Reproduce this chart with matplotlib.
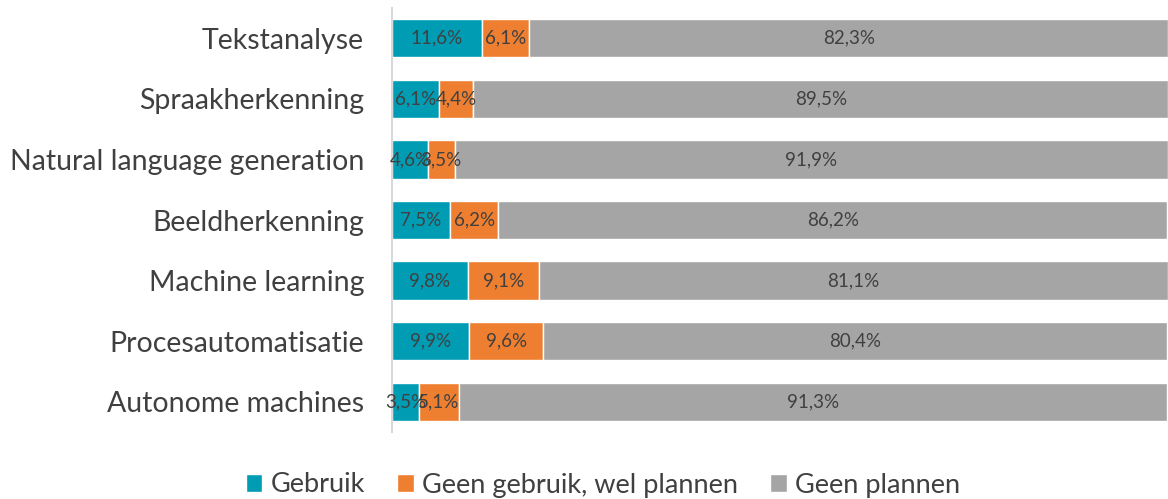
import numpy as np
import matplotlib.pyplot as plt

categories = ["Tekstanalyse", "Spraakherkenning", "Natural language generation",
              "Beeldherkenning", "Machine learning", "Procesautomatisatie",
              "Autonome machines"]
gebruik = [11.6, 6.1, 4.6, 7.5, 9.8, 9.9, 3.5]
plannen = [6.1, 4.4, 3.5, 6.2, 9.1, 9.6, 5.1]
geen = [82.3, 89.5, 91.9, 86.2, 81.1, 80.4, 91.3]

series = [("Gebruik", gebruik, "#009cb4"),
          ("Geen gebruik, wel plannen", plannen, "#ee7f30"),
          ("Geen plannen", geen, "#a5a5a5")]

plt.rcParams['font.family'] = ['Lato', 'DejaVu Sans']

fig = plt.figure(figsize=(11.68, 4.99), dpi=100)
ax = fig.add_axes([392 / 1168, 1 - 432 / 499, 1 - 392 / 1168, 424 / 499])

y = np.arange(len(categories))
left = np.zeros(len(categories))
for name, vals, color in series:
    vals = np.array(vals)
    bars = ax.barh(y, vals, left=left, height=0.63, color=color,
                   edgecolor="white", linewidth=1, label=name)
    labels = [f"{v:.1f}%".replace(".", ",") for v in vals]
    ax.bar_label(bars, labels=labels, label_type="center",
                 color="#404040", fontsize=13.5)
    left += vals

ax.set_xlim(0, 100)
ax.set_ylim(len(categories) - 0.5, -0.5)
ax.set_yticks(y)
ax.set_yticklabels(categories, fontsize=20.5, color="#404040")
ax.tick_params(axis="y", length=0, pad=20)
ax.set_xticks([])
for side in ["top", "right", "bottom"]:
    ax.spines[side].set_visible(False)
ax.spines["left"].set_color("#d9d9d9")
ax.spines["left"].set_linewidth(1.5)

ax.legend(loc="center", ncol=3, frameon=False, fontsize=19.5,
          handlelength=0.6, handleheight=0.6, handletextpad=0.3,
          columnspacing=1.2, labelcolor="#404040",
          bbox_to_anchor=(603 / 1168, 1 - 485 / 499),
          bbox_transform=fig.transFigure)

fig.savefig("out.png", dpi=100)
